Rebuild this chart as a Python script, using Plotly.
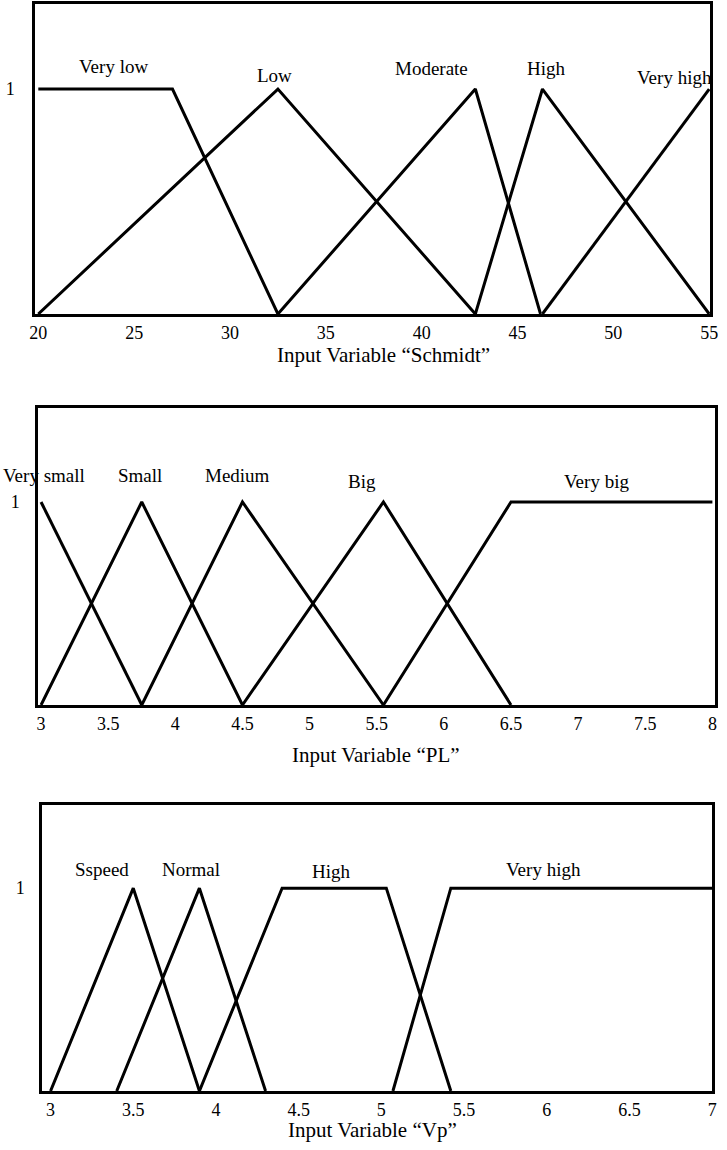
import plotly.graph_objects as go

# ---------------- data ----------------
# Panel 1: Input variable "Schmidt"
schmidt_names = ["Very low", "Low", "Moderate", "High", "Very high"]
schmidt_x = [[20, 27, 32.5], [20, 32.5, 42.8], [32.5, 42.8, 46.2], [42.8, 46.3, 55], [46.3, 55]]
schmidt_y = [[1, 1, 0], [0, 1, 0], [0, 1, 0], [0, 1, 0], [0, 1]]
schmidt_label_x = [23.9, 32.3, 40.5, 46.5, 53.2]
schmidt_label_y = [1.10, 1.06, 1.09, 1.09, 1.05]
schmidt_ticks = [20, 25, 30, 35, 40, 45, 50, 55]

# Panel 2: Input variable "PL"
pl_names = ["Very small", "Small", "Medium", "Big", "Very big"]
pl_x = [[3, 3.75], [3, 3.75, 4.5], [3.75, 4.5, 5.55], [4.5, 5.55, 6.5], [5.55, 6.5, 8]]
pl_y = [[1, 0], [0, 1, 0], [0, 1, 0], [0, 1, 0], [0, 1, 1]]
pl_label_x = [3.02, 3.74, 4.46, 5.39, 7.14]
pl_label_y = [1.13, 1.13, 1.13, 1.10, 1.10]
pl_ticks = [3, 3.5, 4, 4.5, 5, 5.5, 6, 6.5, 7, 7.5, 8]

# Panel 3: Input variable "Vp"
vp_names = ["Sspeed", "Normal", "High", "Very high"]
vp_x = [[3, 3.5, 3.9], [3.4, 3.9, 4.3], [3.9, 4.4, 5.03, 5.42], [5.07, 5.42, 7]]
vp_y = [[0, 1, 0], [0, 1, 0], [0, 1, 1, 0], [0, 1, 1]]
vp_label_x = [3.31, 3.85, 4.70, 5.98]
vp_label_y = [1.09, 1.09, 1.08, 1.09]
vp_ticks = [3, 3.5, 4, 4.5, 5, 5.5, 6, 6.5, 7]

titles = ["Input Variable \u201cSchmidt\u201d", "Input Variable \u201cPL\u201d", "Input Variable \u201cVp\u201d"]

# ---------------- layout helpers ----------------
W, H = 727, 1150
FONT = "Liberation Serif, Times New Roman, serif"

def px_x(p):
    return p / W

def px_y(p):
    return 1 - p / H

panels = [
    dict(names=schmidt_names, xs=schmidt_x, ys=schmidt_y, lx=schmidt_label_x, ly=schmidt_label_y,
         ticks=schmidt_ticks, xr=[19.85, 55.05], yr=[0, 1.378],
         dx=[30, 718], dy=[314, 4], title_pos=(385, 355), ystand=14),
    dict(names=pl_names, xs=pl_x, ys=pl_y, lx=pl_label_x, ly=pl_label_y,
         ticks=pl_ticks, xr=[2.98, 8.02], yr=[0, 1.463],
         dx=[33, 723], dy=[705, 408], title_pos=(377, 755), ystand=12),
    dict(names=vp_names, xs=vp_x, ys=vp_y, lx=vp_label_x, ly=vp_label_y,
         ticks=vp_ticks, xr=[2.95, 7.0], yr=[0, 1.41],
         dx=[37, 720], dy=[1091, 805], title_pos=(374, 1130), ystand=11),
]

fig = go.Figure()
annotations = []
layout = {}

for i, p in enumerate(panels, start=1):
    xa = "x" if i == 1 else f"x{i}"
    ya = "y" if i == 1 else f"y{i}"
    for xs, ys in zip(p["xs"], p["ys"]):
        fig.add_trace(go.Scatter(x=xs, y=ys, mode="lines", xaxis=xa, yaxis=ya,
                                 line=dict(color="black", width=3),
                                 showlegend=False, hoverinfo="skip", cliponaxis=False))
    for name, lx, ly in zip(p["names"], p["lx"], p["ly"]):
        annotations.append(dict(x=lx, y=ly, xref=xa, yref=ya, text=name, showarrow=False,
                                font=dict(family=FONT, size=19, color="black"),
                                xanchor="center", yanchor="middle"))
    tx, ty = p["title_pos"]
    annotations.append(dict(x=px_x(tx), y=px_y(ty), xref="paper", yref="paper", text=titles[i - 1],
                            showarrow=False, font=dict(family=FONT, size=21, color="black"),
                            xanchor="center", yanchor="middle"))
    xkey = "xaxis" if i == 1 else f"xaxis{i}"
    ykey = "yaxis" if i == 1 else f"yaxis{i}"
    layout[xkey] = dict(domain=[px_x(p["dx"][0]), px_x(p["dx"][1])], range=p["xr"], anchor=ya,
                        showline=True, mirror=True, linewidth=3, linecolor="black",
                        showgrid=False, zeroline=False, ticks="",
                        tickvals=p["ticks"], ticktext=[f"{t:g}" for t in p["ticks"]],
                        tickfont=dict(family=FONT, size=18, color="black"))
    layout[ykey] = dict(domain=[px_y(p["dy"][0]), px_y(p["dy"][1])], range=p["yr"], anchor=xa,
                        showline=True, mirror=True, linewidth=3, linecolor="black",
                        showgrid=False, zeroline=False, ticks="",
                        tickvals=[1], ticktext=["1"], ticklabelstandoff=p["ystand"],
                        tickfont=dict(family=FONT, size=18, color="black"))

fig.update_layout(width=W, height=H, margin=dict(l=0, r=0, t=0, b=0),
                  paper_bgcolor="white", plot_bgcolor="white",
                  annotations=annotations, **layout)

fig.write_html("out.html", config={"displayModeBar": False},
               post_script="document.body.style.margin='0px';document.body.style.padding='0px';")
